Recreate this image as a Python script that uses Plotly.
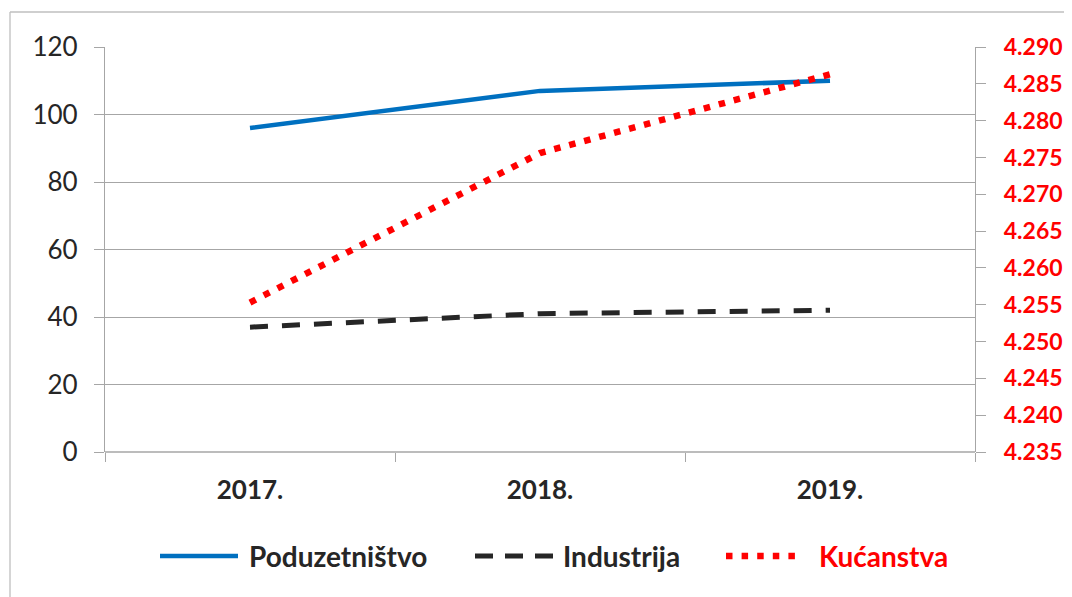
import plotly.graph_objects as go

years = ["2017.", "2018.", "2019."]
poduzetnistvo = [96, 107, 110]
industrija = [37, 41, 42]
kucanstva = [4.2553, 4.2756, 4.2863]

left_ticks = [0, 20, 40, 60, 80, 100, 120]
right_ticks = [4.235, 4.240, 4.245, 4.250, 4.255, 4.260, 4.265, 4.270, 4.275, 4.280, 4.285, 4.290]

# the page places the figure 8px from the window's top-left corner
OFF = 8
W, H = 1072 - OFF, 597 - OFF
L, R, T, B = 105, 975, 47, 452   # plot area in window coordinates
pw, ph = R - L, B - T

def px(x):
    return (x - L) / pw

def py(y):
    return (B - y) / ph

FONT = "Lato"
DARK = "#262626"
GRID = "#A6A6A6"
RED = "#FF0000"
BLUE = "#0070C0"

fig = go.Figure()
fig.add_trace(go.Scatter(x=years, y=poduzetnistvo, name="Poduzetništvo", mode="lines",
                         line=dict(color=BLUE, width=4.5), yaxis="y"))
fig.add_trace(go.Scatter(x=years, y=industrija, name="Industrija", mode="lines",
                         line=dict(color=DARK, width=5, dash="18px,14px"), yaxis="y"))
fig.add_trace(go.Scatter(x=years, y=kucanstva, name="Kućanstva", mode="lines",
                         line=dict(color=RED, width=6.5, dash="6.5px,9px"), yaxis="y2"))

fig.update_layout(
    width=W, height=H,
    margin=dict(l=L - OFF, r=W - (R - OFF), t=T - OFF, b=H - (B - OFF), autoexpand=False),
    paper_bgcolor="white", plot_bgcolor="white",
    showlegend=False,
    font=dict(family=FONT, color=DARK),
    xaxis=dict(
        type="category", range=[-0.5, 2.5], showgrid=False, automargin=False,
        tickson="boundaries", ticks="outside", ticklen=9, tickcolor=GRID, tickwidth=1.3,
        showline=False, zeroline=False,
        tickfont=dict(family=FONT, size=26, color=DARK, weight="bold"),
        ticklabelstandoff=20,
    ),
    yaxis=dict(
        range=[0, 120], tickvals=left_ticks, showgrid=True, gridcolor=GRID, gridwidth=1.3,
        ticks="outside", ticklen=10, tickcolor=GRID, tickwidth=1.3, automargin=False,
        showline=True, linecolor=GRID, linewidth=1.3, zeroline=False,
        tickfont=dict(family=FONT, size=26, color=DARK),
        ticklabelstandoff=11,
    ),
    yaxis2=dict(
        range=[4.235, 4.290], tickvals=right_ticks, tickformat=".3f",
        overlaying="y", side="right", showgrid=False, automargin=False,
        ticks="outside", ticklen=10, tickcolor=GRID, tickwidth=1.3,
        showline=True, linecolor=GRID, linewidth=1.3, zeroline=False,
        tickfont=dict(family=FONT, size=23, color=RED, weight="bold"),
        ticklabelstandoff=13,
    ),
)

shapes = []
shapes.append(dict(type="line", xref="paper", yref="paper", x0=0, x1=1, y0=0, y1=0,
                   line=dict(color=GRID, width=1.3), layer="above"))
shapes.append(dict(type="line", xref="paper", yref="paper", x0=px(10), x1=px(10), y0=py(12), y1=py(620),
                   line=dict(color="#BFBFBF", width=1.3)))
shapes.append(dict(type="line", xref="paper", yref="paper", x0=px(10), x1=px(1090), y0=py(12), y1=py(12),
                   line=dict(color="#BFBFBF", width=1.3)))

ly = py(556)
legend_items = [
    (160, 238, dict(color=BLUE, width=4.5), 247, "Poduzetništvo", DARK),
    (475, 553, dict(color=DARK, width=5, dash="18px,12px"), 561, "Industrija", DARK),
    (726, 797, dict(color=RED, width=6.5, dash="6.5px,9.1px"), 817, "Kućanstva", RED),
]
annotations = []
for x0, x1, ln, tx, name, col in legend_items:
    shapes.append(dict(type="line", xref="paper", yref="paper", x0=px(x0), x1=px(x1), y0=ly, y1=ly, line=ln))
    annotations.append(dict(x=px(tx), y=ly, xref="paper", yref="paper", text=name, showarrow=False,
                            xanchor="left", yanchor="middle",
                            font=dict(family=FONT, size=28, color=col, weight="bold")))

fig.update_layout(shapes=shapes, annotations=annotations)

fig.write_html("out.html")
